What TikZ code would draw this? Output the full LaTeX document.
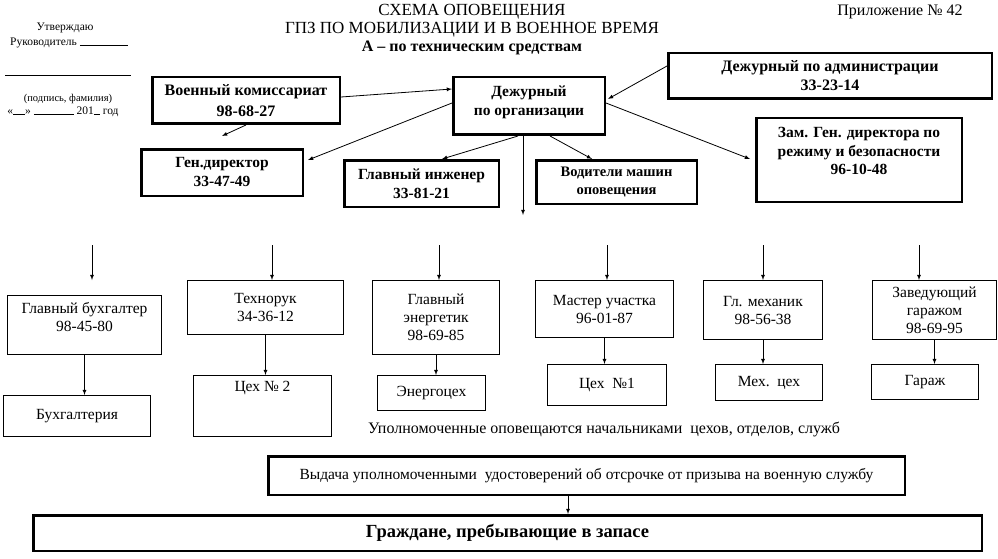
\documentclass[tikz,border=0pt]{standalone}
\usepackage{fontspec}
\setmainfont{Liberation Serif}
\begin{document}
\begin{tikzpicture}[x=1pt,y=-1pt,>=latex,
  every edge/.style={draw,line width=0.8pt},
  bold box/.style={draw,line width=2.5pt,align=center,inner sep=0pt,font=\bfseries\fontsize{15.5}{19}\selectfont},
  thin box/.style={draw,line width=0.9pt,align=center,inner sep=0pt,font=\fontsize{15.5}{18}\selectfont}]
\useasboundingbox (0,0) rectangle (998,559);

% shapka
\node[font=\fontsize{11.5}{13}\selectfont] (utv) at (65,28) {Утверждаю};
\node[font=\fontsize{11.5}{13}\selectfont] (ruk) at (69,43) {Руководитель \rule{48pt}{0.6pt}};
\coordinate (podp1) at (5,75);
\coordinate (podp2) at (131,75);
\draw[line width=0.7pt] (podp1) -- (podp2);
\node[font=\fontsize{10.5}{12}\selectfont] (podpis) at (68,99) {(подпись, фамилия)};
\node[font=\fontsize{11.5}{13}\selectfont] (data) at (63,112) {«\rule{12pt}{0.6pt}» \rule{40pt}{0.6pt} 201\rule{6pt}{0.6pt} год};
\node[font=\fontsize{16}{18}\selectfont] (prilozh) at (900,12) {Приложение № 42};
\node[align=center,font=\fontsize{17}{18}\selectfont] (title) at (472,30)
  {СХЕМА ОПОВЕЩЕНИЯ\\ГПЗ ПО МОБИЛИЗАЦИИ И В ВОЕННОЕ ВРЕМЯ\\{\bfseries\fontsize{16}{18}\selectfont А – по техническим средствам}};

% verhnij uroven
\node[bold box,minimum width=187.5,minimum height=46.5,font=\bfseries\fontsize{16}{21}\selectfont] (voenkom) at (246,100.5) {Военный комиссариат\\98-68-27};
\node[bold box,minimum width=151.5,minimum height=57.5] (dezhurny) at (529,106) {Дежурный\\по организации\\[-14pt]\strut};
\node[bold box,minimum width=323.5,minimum height=45.5,font=\bfseries\fontsize{16}{19}\selectfont] (admin) at (830,76) {Дежурный по администрации\\33-23-14};
\node[bold box,minimum width=161.5,minimum height=46.5] (gendir) at (222,172.5) {Ген.директор\\33-47-49};
\node[bold box,minimum width=154.5,minimum height=46.5] (inzhener) at (421.5,183.5) {Главный инженер\\33-81-21};
\node[bold box,minimum width=160.5,minimum height=43.5,font=\bfseries\fontsize{14.5}{18}\selectfont] (voditeli) at (616.5,182) {Водители машин\\оповещения};
\node[bold box,minimum width=205.5,minimum height=83.5,font=\bfseries\fontsize{15.5}{18.5}\selectfont] (zam) at (859,160) {Зам. Ген. директора по\\режиму и безопасности\\96-10-48\\[-6pt]\strut};
\coordinate (vniz) at (523,215);

\path[->] ([shift={(0,-3.5)}]voenkom.east) edge ([shift={(0,-17)}]dezhurny.west);
\path[->] (voenkom.south) edge ([shift={(0,-12)}]gendir.north);
\path[->] ([shift={(0,-3)}]dezhurny.west) edge ([shift={(4,-12.5)}]gendir.east);
\path[->] ([shift={(-11,0)}]dezhurny.south) edge ([shift={(20.5,0)}]inzhener.north);
\path[->] ([shift={(-6,0)}]dezhurny.south) edge (vniz);
\path[->] ([shift={(21,0)}]dezhurny.south) edge ([shift={(-24.5,0)}]voditeli.north);
\path[->] ([shift={(0,-10)}]admin.west) edge ([shift={(2,-7)}]dezhurny.east);
\path[->] ([shift={(0,-3)}]dezhurny.east) edge ([shift={(-5,-1)}]zam.west);

% nachalniki
\node[thin box,minimum width=154,minimum height=59] (buh) at (84.5,325) {Главный бухгалтер\\98-45-80\\[-8pt]\strut};
\node[thin box,minimum width=156,minimum height=54] (tehnoruk) at (265.5,307.5) {Технорук\\34-36-12};
\node[thin box,minimum width=127,minimum height=74] (energetik) at (436,317.5) {Главный\\энергетик\\98-69-85};
\node[thin box,minimum width=138,minimum height=57] (master) at (604.5,309) {Мастер участка\\96-01-87};
\node[thin box,minimum width=119,minimum height=59] (mehanik) at (763,310) {Гл. механик\\98-56-38};
\node[thin box,minimum width=124,minimum height=59] (zavgar) at (934.5,310) {Заведующий\\гаражом\\98-69-95};
\coordinate (vh1) at (92,245);
\coordinate (vh2) at (272,245);
\coordinate (vh3) at (439,245);
\coordinate (vh4) at (607,245);
\coordinate (vh5) at (763,245);
\coordinate (vh6) at (919,245);
\path[->] (vh1) edge (vh1 |- tehnoruk.north);
\path[->] (vh2) edge (vh2 |- tehnoruk.north);
\path[->] (vh3) edge (vh3 |- energetik.north);
\path[->] (vh4) edge (vh4 |- master.north);
\path[->] (vh5) edge (vh5 |- mehanik.north);
\path[->] (vh6) edge (vh6 |- zavgar.north);

% cehi
\node[thin box,minimum width=147,minimum height=41] (buhgalteria) at (77,416) {Бухгалтерия};
\node[thin box,minimum width=138,minimum height=61] (ceh2) at (262.5,406) {Цех № 2\\[16pt]\strut};
\node[thin box,minimum width=108,minimum height=35] (energoceh) at (431.5,393) {Энергоцех};
\node[thin box,minimum width=119,minimum height=41] (ceh1) at (607,385) {Цех\ \ №1};
\node[thin box,minimum width=107,minimum height=36] (mehceh) at (769,382.5) {Мех.\ \ цех};
\node[thin box,minimum width=107,minimum height=35] (garazh) at (925,382) {Гараж};
\path[->] (buh.south) edge (buh.south |- buhgalteria.north);
\path[->] (tehnoruk.south) edge (tehnoruk.south |- ceh2.north);
\path[->] (energetik.south) edge (energetik.south |- energoceh.north);
\path[->] (master.south) edge (master.south |- ceh1.north);
\path[->] (mehanik.south) edge (mehanik.south |- mehceh.north);
\path[->] (zavgar.south) edge (zavgar.south |- garazh.north);

\node[font=\fontsize{16}{18}\selectfont] (upoln) at (604,429) {Уполномоченные оповещаются начальниками\ \ цехов, отделов, служб};
\node[bold box,minimum width=636.5,minimum height=38.5,font=\fontsize{15.5}{18}\selectfont] (vydacha) at (586.5,475.5) {Выдача уполномоченными\ \ удостоверений об отсрочке от призыва на военную службу};
\node[bold box,minimum width=948.5,minimum height=35.5,font=\bfseries\fontsize{18.5}{20}\selectfont] (grazhd) at (507.5,533) {Граждане, пребывающие в запасе};
\coordinate (vyd) at ([shift={(-18.5,0)}]vydacha.south);
\path[->] (vyd) edge (vyd |- grazhd.north);
\end{tikzpicture}
\end{document}
